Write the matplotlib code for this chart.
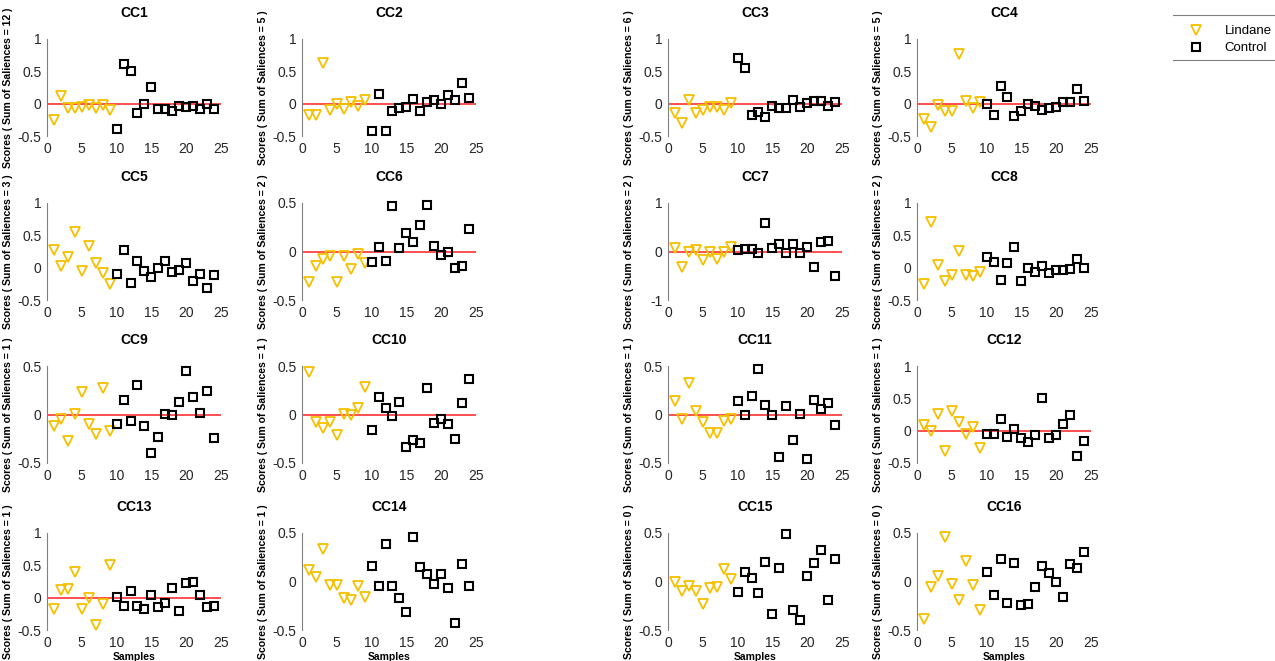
import matplotlib
matplotlib.use("Agg")
from matplotlib import pyplot as plt
from matplotlib.lines import Line2D
import numpy as np

plt.rcParams['font.family'] = ['Liberation Sans', 'DejaVu Sans']

samples = np.arange(1, 25)
n_lindane = 9  # samples 1-9 Lindane, 10-24 Control

titles = ["CC%d" % i for i in range(1, 17)]
saliences = [12, 5, 6, 5, 3, 2, 2, 2, 1, 1, 1, 1, 1, 1, 0, 0]

# scores per component, 24 samples each
cc1 = [-0.25, 0.12, -0.07, -0.06, -0.05, -0.02, -0.06, -0.02, -0.10,
       -0.39, 0.62, 0.51, -0.14, 0.00, 0.25, -0.08, -0.08, -0.12, -0.03, -0.05, -0.04, -0.08, -0.01, -0.09]
cc2 = [-0.18, -0.17, 0.63, -0.10, -0.01, -0.08, 0.03, -0.03, 0.06,
       -0.43, 0.15, -0.42, -0.11, -0.07, -0.05, 0.07, -0.11, 0.02, 0.05, -0.01, 0.13, 0.06, 0.32, 0.09]
cc3 = [-0.14, -0.30, 0.05, -0.15, -0.10, -0.05, -0.05, -0.10, 0.01,
       0.70, 0.55, -0.18, -0.13, -0.20, -0.03, -0.06, -0.07, 0.06, -0.05, 0.01, 0.04, 0.04, -0.04, 0.03]
cc4 = [-0.24, -0.36, -0.02, -0.11, -0.12, 0.77, 0.04, -0.06, 0.03,
       0.00, -0.18, 0.27, 0.11, -0.19, -0.12, -0.01, -0.04, -0.10, -0.06, -0.05, 0.03, 0.03, 0.23, 0.04]
cc5 = [0.27, 0.03, 0.17, 0.55, -0.05, 0.33, 0.07, -0.09, -0.26,
       -0.10, 0.28, -0.23, 0.11, -0.05, -0.14, -0.01, 0.11, -0.06, -0.04, 0.07, -0.20, -0.10, -0.32, -0.12]
cc6 = [-0.31, -0.15, -0.08, -0.05, -0.31, -0.05, -0.18, -0.03, -0.12,
       -0.11, 0.05, -0.10, 0.47, 0.04, 0.19, 0.10, 0.27, 0.48, 0.06, -0.04, 0.00, -0.17, -0.15, 0.23]
cc7 = [0.08, -0.32, 0.00, 0.04, -0.18, -0.01, -0.16, -0.01, 0.09,
       0.03, 0.06, 0.05, -0.03, 0.58, 0.08, 0.16, -0.03, 0.16, -0.03, 0.09, -0.31, 0.20, 0.22, -0.50]
cc8 = [-0.25, 0.70, 0.04, -0.20, -0.12, 0.26, -0.11, -0.13, -0.07,
       0.17, 0.08, -0.19, 0.07, 0.32, -0.21, 0.00, -0.07, 0.03, -0.09, -0.03, -0.04, -0.02, 0.14, 0.00]
cc9 = [-0.12, -0.05, -0.27, 0.01, 0.23, -0.10, -0.20, 0.27, -0.17,
       -0.10, 0.15, -0.07, 0.30, -0.12, -0.40, -0.23, 0.01, -0.01, 0.13, 0.45, 0.18, 0.02, 0.24, -0.24]
cc10 = [0.44, -0.08, -0.14, -0.08, -0.21, 0.01, 0.00, 0.07, 0.28,
        -0.16, 0.18, 0.07, -0.02, 0.13, -0.34, -0.26, -0.29, 0.27, -0.09, -0.05, -0.10, -0.25, 0.12, 0.37]
cc11 = [0.14, -0.05, 0.32, 0.04, -0.08, -0.19, -0.19, -0.07, -0.05,
        0.14, 0.00, 0.19, 0.47, 0.10, -0.01, -0.44, 0.09, -0.26, 0.01, -0.46, 0.15, 0.06, 0.12, -0.11]
cc12 = [0.09, -0.01, 0.26, -0.32, 0.30, 0.13, -0.05, 0.05, -0.27,
        -0.05, -0.05, 0.18, -0.10, 0.02, -0.12, -0.17, -0.06, 0.51, -0.12, -0.06, 0.11, 0.24, -0.39, -0.16]
cc13 = [-0.18, 0.12, 0.13, 0.39, -0.18, -0.01, -0.42, -0.10, 0.51,
        0.01, -0.13, 0.11, -0.13, -0.18, 0.04, -0.15, -0.09, 0.15, -0.20, 0.23, 0.25, 0.04, -0.15, -0.13]
cc14 = [0.12, 0.05, 0.33, -0.04, -0.04, -0.17, -0.19, -0.05, -0.16,
        0.16, -0.05, 0.39, -0.05, -0.17, -0.31, 0.46, 0.15, 0.08, -0.03, 0.08, -0.07, -0.43, 0.18, -0.05]
cc15 = [0.00, -0.10, -0.05, -0.10, -0.23, -0.07, -0.06, 0.13, 0.03,
        -0.11, 0.10, 0.04, -0.12, 0.20, -0.34, 0.14, 0.49, -0.29, -0.40, 0.06, 0.19, 0.32, -0.19, 0.23]
cc16 = [-0.39, -0.06, 0.06, 0.46, -0.03, -0.19, 0.21, -0.04, -0.29,
        0.10, -0.14, 0.23, -0.22, 0.19, -0.24, -0.23, -0.06, 0.16, 0.09, 0.00, -0.16, 0.18, 0.14, 0.30]

scores = [cc1, cc2, cc3, cc4, cc5, cc6, cc7, cc8, cc9, cc10, cc11, cc12, cc13, cc14, cc15, cc16]

# y range of each panel and whether a zero line is drawn
ylims = [(-0.5, 1), (-0.5, 1), (-0.5, 1), (-0.5, 1),
         (-0.5, 1), (-0.5, 0.5), (-1, 1), (-0.5, 1),
         (-0.5, 0.5), (-0.5, 0.5), (-0.5, 0.5), (-0.5, 1),
         (-0.5, 1), (-0.5, 0.5), (-0.5, 0.5), (-0.5, 0.5)]
zero_line = [True, True, True, True, False, True, True, False,
             True, True, True, True, True, False, False, False]

W, H = 1275, 661
fig = plt.figure(figsize=(W / 100, H / 100), dpi=100)

col_x = [47, 302, 668, 917]
row_y = [39, 203, 366, 533]
ax_w, ax_h = 174, 97

yellow = '#F5C000'

for i in range(16):
    r, c = divmod(i, 4)
    ax = fig.add_axes([col_x[c] / W, 1 - (row_y[r] + ax_h) / H, ax_w / W, ax_h / H])
    y = np.array(scores[i])
    lo, hi = ylims[i]
    if zero_line[i]:
        ax.axhline(0, color='#ff3030', lw=1.2, zorder=1)
    l1, = ax.plot(samples[:n_lindane], y[:n_lindane], 'v', ms=6.5, mfc='none',
                  mec=yellow, mew=1.3, label='Lindane', zorder=3, clip_on=False)
    l2, = ax.plot(samples[n_lindane:], y[n_lindane:], 's', ms=5.8, mfc='none',
                  mec='black', mew=1.5, label='Control', zorder=3, clip_on=False)
    ax.set_xlim(0, 25)
    ax.set_ylim(lo, hi)
    ax.set_xticks([0, 5, 10, 15, 20, 25])
    if lo == -1:
        ax.set_yticks([-1, 0, 1])
    elif hi == 1:
        ax.set_yticks([-0.5, 0, 0.5, 1])
    else:
        ax.set_yticks([-0.5, 0, 0.5])
    ax.set_yticklabels(['%g' % v for v in ax.get_yticks()])
    for s in ['top', 'right', 'bottom']:
        ax.spines[s].set_visible(False)
    ax.spines['left'].set_color('#808080')
    ax.tick_params(length=0, labelsize=10, labelcolor='#262626', pad=4)
    ax.set_title(titles[i], fontsize=10, fontweight='bold', pad=16)
    ax.set_ylabel('Scores ( Sum of Saliences = %d )' % saliences[i],
                  fontsize=7.6, fontweight='bold')
    ax.yaxis.set_label_coords(-0.195, 0.5)
    if r == 3:
        ax.set_xlabel('Samples', fontsize=7.5, fontweight='bold', labelpad=2)

leg = fig.legend([l1, l2], ['Lindane', 'Control'], loc='upper left',
                 bbox_to_anchor=(1177 / W, 1 - 16 / H), fontsize=9.5, frameon=False,
                 handletextpad=1.4, labelspacing=0.35, handlelength=1.5,
                 borderpad=0.2)

# legend box: only top and bottom edges show in the original
for yy in [15, 60]:
    fig.add_artist(Line2D([1173 / W, 1], [1 - yy / H, 1 - yy / H],
                          transform=fig.transFigure, color='#808080', lw=0.8))

fig.savefig('out.png', dpi=100)
